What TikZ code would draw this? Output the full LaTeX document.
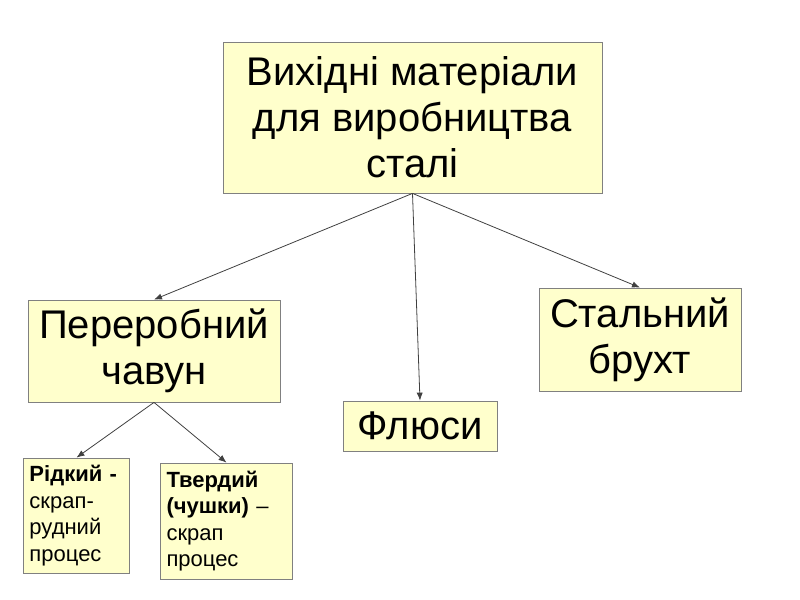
\documentclass[tikz,border=0pt]{standalone}
\usepackage{fontspec}
\setmainfont{Liberation Sans}
\usepackage{xcolor}
\usepackage{tikz}
\usetikzlibrary{arrows.meta,positioning}
\definecolor{boxfill}{HTML}{FFFFCC}
\definecolor{boxline}{HTML}{808080}
\tikzset{
  >={Latex[length=1.4mm,width=1.1mm]},
  bigbox/.style={draw=boxline, fill=boxfill, align=center, inner sep=2pt, font=\fontsize{20}{23}\selectfont},
  smallbox/.style={draw=boxline, fill=boxfill, align=left, inner sep=3pt, font=\fontsize{11}{13.2}\selectfont},
  link/.style={->, draw=black!75, line width=0.4pt},
}
\begin{document}
\begin{tikzpicture}[x=0.5pt, y=-0.5pt]
  \useasboundingbox (0,0) rectangle (800,600);
  \node[bigbox, minimum width=189.5pt, minimum height=75.5pt] (src) at (412.5,117.5) {Вихідні матеріали\\для виробництва\\сталі};
  \node[bigbox, minimum width=126pt, minimum height=51pt] (iron) at (154,351) {Переробний\\чавун};
  \node[bigbox, minimum width=77pt, minimum height=25pt] (flux) at (420,426) {Флюси};
  \node[bigbox, minimum width=101pt, minimum height=51.5pt] (scrap) at (640,339.5) {Стальний\\брухт};
  \node[smallbox, text width=47pt, minimum height=57.5pt] (liquid) at (76.5,515.5) {\textbf{Рідкий -}\\скрап-\\рудний\\процес};
  \node[smallbox, text width=60pt, minimum height=58pt] (solid) at (226.5,521) {\textbf{Твердий}\\\textbf{(чушки)} –\\скрап\\процес};

  \draw[link] (src.south) -- (iron.north);
  \draw[link] (src.south) -- (flux.north);
  \draw[link] (src.south) -- (scrap.north);
  \draw[link] (iron.south) -- (liquid.north);
  \draw[link] (iron.south) -- (solid.north);
\end{tikzpicture}
\end{document}
